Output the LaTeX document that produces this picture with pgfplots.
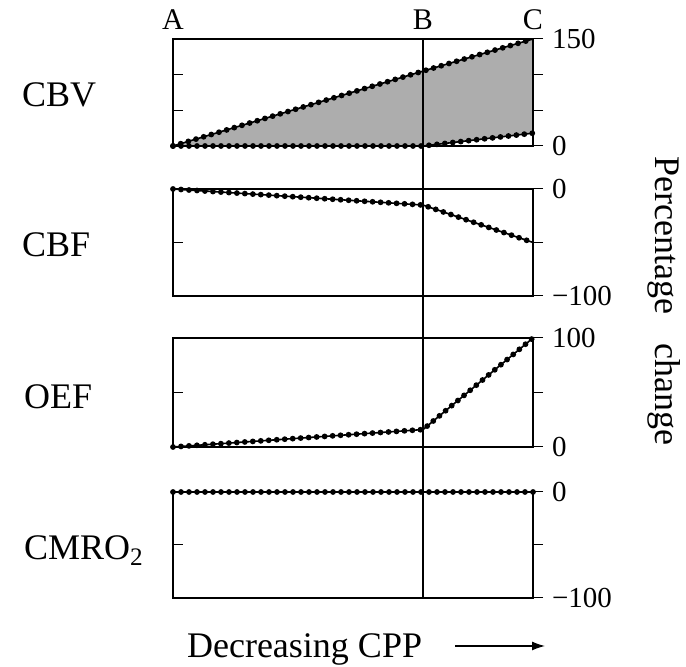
\documentclass[border=0pt]{standalone}
\usepackage{fontspec}
\setmainfont{Liberation Serif}
\usepackage{pgfplots}
\usepackage{pgfplotstable}
\pgfplotsset{compat=1.18}
\usetikzlibrary{arrows.meta}

\newcommand{\labsize}{\fontsize{18}{21}\selectfont}
\newcommand{\ticksize}{\fontsize{14.5}{16}\selectfont}
\newcommand{\ptsize}{\fontsize{15}{17}\selectfont}

% points A, B, C along decreasing CPP (x), percentage change (y)
\pgfplotstableread{
x   cbvup cbvlo cbf  oef cmro
0   0     0     0    0   0
25  105   0     -15  16  0
36  150   18    -50  100 0
}\cppdata

\pgfplotsset{
  panel/.style={scale only axis, width=180pt, height=53.5pt,
    xmin=0, xmax=36, xtick=\empty, anchor=south west, clip=false,
    axis line style={line width=0.6pt},
    major tick length=5pt, tick style={line width=0.5pt, black}},
  boxax/.style={panel, ytick pos=left, tick align=inside, yticklabels={}},
  rightax/.style={panel, hide x axis, axis y line*=right, tick align=outside,
    yticklabel style={font=\ticksize, anchor=west, xshift=1pt}},
  dotline/.style={black, line width=0.8pt,
    postaction={draw, line width=2.9pt, dash pattern=on 0pt off 4pt, line cap=round}},
}

\begin{document}
\begin{tikzpicture}
\useasboundingbox (0,0) rectangle (343pt,333.5pt);

% CBV
\begin{axis}[boxax, at={(86.5pt,260.5pt)}, ymin=0, ymax=150, ytick={50,100}]
  \addplot[draw=none, fill=black!32] coordinates {(0,0) (25,105) (36,150) (36,18) (25,0) (0,0)};
\end{axis}
\begin{axis}[rightax, at={(86.5pt,260.5pt)}, ymin=0, ymax=150,
  ytick={0,50,100,150}, yticklabels={0,,,150}]
  \addplot[dotline] table[x=x, y=cbvup] {\cppdata};
  \addplot[dotline] table[x=x, y=cbvlo] {\cppdata};
  \coordinate (Btop) at (axis cs:25,150);
  \node[font=\ptsize, anchor=base] at ([yshift=4.5pt]axis cs:0,150) {A};
  \node[font=\ptsize, anchor=base] at ([yshift=4.5pt]axis cs:25,150) {B};
  \node[font=\ptsize, anchor=base] at ([yshift=4.5pt]axis cs:36,150) {C};
\end{axis}

% CBF
\begin{axis}[boxax, at={(86.5pt,185.5pt)}, ymin=-100, ymax=0, ytick={-50}]
\end{axis}
\begin{axis}[rightax, at={(86.5pt,185.5pt)}, ymin=-100, ymax=0,
  ytick={-100,-50,0}, yticklabels={−100,,0}]
  \addplot[dotline] table[x=x, y=cbf] {\cppdata};
\end{axis}

% OEF
\begin{axis}[boxax, at={(86.5pt,110pt)}, height=54.5pt, ymin=0, ymax=100, ytick={50}]
\end{axis}
\begin{axis}[rightax, at={(86.5pt,110pt)}, height=54.5pt, ymin=0, ymax=100,
  ytick={0,50,100}, yticklabels={0,,100}]
  \addplot[dotline] table[x=x, y=oef] {\cppdata};
\end{axis}

% CMRO2
\begin{axis}[boxax, at={(86.5pt,34.5pt)}, height=53pt, ymin=-100, ymax=0, ytick={-50}]
\end{axis}
\begin{axis}[rightax, at={(86.5pt,34.5pt)}, height=53pt, ymin=-100, ymax=0,
  ytick={-100,-50,0}, yticklabels={−100,,0}]
  \addplot[dotline] table[x=x, y=cmro] {\cppdata};
  \coordinate (Bbot) at (axis cs:25,-100);
\end{axis}

\draw[line width=0.6pt] (Btop) -- (Bbot);

\node[font=\labsize, anchor=base west] at (7.5pt,280pt) {CBV};
\node[font=\labsize, anchor=base west] at (7.5pt,205pt) {CBF};
\node[font=\labsize, anchor=base west] at (8.5pt,129pt) {OEF};
\node[font=\labsize, anchor=base west] at (8.5pt,53.5pt) {CMRO\textsubscript{2}};

\node[font=\labsize, rotate=-90] at (332pt,183pt) {Percentage\hspace{0.8em}change};

\node[font=\labsize, anchor=base west] at (90pt,4.5pt) {Decreasing CPP};
\draw[-{Latex[length=6.5pt,width=4.5pt]}, line width=0.6pt] (227.5pt,10.5pt) -- (272.5pt,10.5pt);
\end{tikzpicture}
\end{document}
